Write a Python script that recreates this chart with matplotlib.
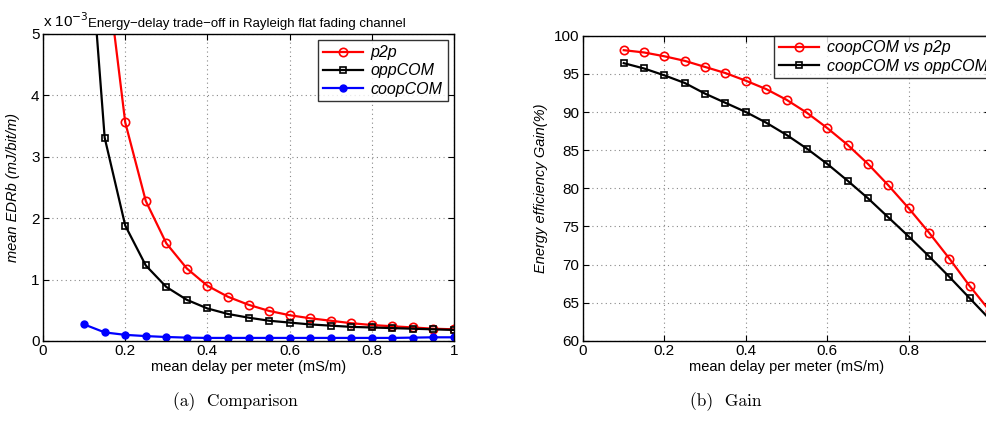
import matplotlib
matplotlib.use("Agg")
import matplotlib.pyplot as plt
import numpy as np

plt.rcParams['font.family'] = ['Liberation Sans', 'DejaVu Sans']
plt.rcParams['font.size'] = 10

# delay per meter (mS/m)
delay = [0.10, 0.15, 0.20, 0.25, 0.30, 0.35, 0.40, 0.45, 0.50, 0.55,
         0.60, 0.65, 0.70, 0.75, 0.80, 0.85, 0.90, 0.95, 1.00]

# mean EDRb (x 1e-3 mJ/bit/m)
p2p = [14.2, 6.3, 3.56, 2.28, 1.59, 1.18, 0.90, 0.72, 0.59, 0.49,
       0.42, 0.37, 0.33, 0.29, 0.26, 0.24, 0.22, 0.20, 0.19]
oppcom = [7.7, 3.31, 1.88, 1.23, 0.88, 0.67, 0.53, 0.44, 0.38, 0.33,
          0.30, 0.27, 0.25, 0.23, 0.22, 0.21, 0.20, 0.19, 0.18]
coopcom = [0.27, 0.14, 0.10, 0.08, 0.065, 0.055, 0.05, 0.05, 0.05, 0.05,
           0.05, 0.05, 0.05, 0.05, 0.05, 0.05, 0.055, 0.06, 0.06]

# energy efficiency gain (%)
gain_p2p = [98.1, 97.8, 97.3, 96.7, 95.9, 95.1, 94.1, 93.0, 91.6, 89.9,
            87.9, 85.7, 83.2, 80.4, 77.4, 74.2, 70.8, 67.2, 63.9]
gain_opp = [96.4, 95.7, 94.8, 93.8, 92.4, 91.2, 90.0, 88.6, 87.0, 85.2,
            83.2, 81.0, 78.7, 76.2, 73.7, 71.1, 68.4, 65.6, 62.8]

fig = plt.figure(figsize=(9.87, 4.34), dpi=100)
ax1 = fig.add_axes([0.0436, 0.2143, 0.4164, 0.7074])
ax2 = fig.add_axes([0.5907, 0.2143, 0.4124, 0.7035])

def style(ax, xlabels):
    ax.grid(True, linestyle=(0, (1, 3)), color='#888888', linewidth=0.8)
    ax.tick_params(direction='in', top=True, right=True, length=4,
                   labelsize=11, pad=2.5)
    for s in ax.spines.values():
        s.set_linewidth(1.0)
    ax.set_xlim(0, 1)
    ax.set_xticks([0, 0.2, 0.4, 0.6, 0.8, 1])
    ax.set_xticklabels(xlabels)
    ax.set_xlabel('mean delay per meter (mS/m)', fontsize=10.5, labelpad=1)

# (a) comparison
ax1.plot(delay, p2p, color='red', lw=1.6, marker='o', ms=6,
         mfc='none', mew=1.2, label='p2p')
ax1.plot(delay, oppcom, color='black', lw=1.6, marker='s', ms=5,
         mfc='none', mew=1.2, label='oppCOM')
ax1.plot(delay, coopcom, color='blue', lw=1.6, marker='o', ms=5,
         label='coopCOM')
style(ax1, ['0', '0.2', '0.4', '0.6', '0.8', '1'])
ax1.set_ylim(0, 5)
ax1.set_yticks([0, 1, 2, 3, 4, 5])
ax1.set_ylabel('mean EDRb (mJ/bit/m)', fontstyle='italic', fontsize=10.5,
               labelpad=8)
ax1.text(0.0, 1.012, r'x 10$^{-3}$', transform=ax1.transAxes,
         fontsize=11, ha='left', va='bottom')
ax1.text(0.11, 1.012, 'Energy\u2212delay trade\u2212off in Rayleigh flat fading channel',
         transform=ax1.transAxes, fontsize=9.5, ha='left', va='bottom')
leg1 = ax1.legend(loc='upper right', fancybox=False, edgecolor='black',
                  prop={'style': 'italic', 'size': 11.5}, handlelength=2.5,
                  borderaxespad=0.4, labelspacing=0.2, borderpad=0.3,
                  handletextpad=0.5)
leg1.get_frame().set_linewidth(1.0)

# (b) gain; the right end of the axes runs past the picture edge
ax2.plot(delay, gain_p2p, color='red', lw=1.6, marker='o', ms=6,
         mfc='none', mew=1.2, label='coopCOM vs p2p')
ax2.plot(delay, gain_opp, color='black', lw=1.6, marker='s', ms=5,
         mfc='none', mew=1.2, label='coopCOM vs oppCOM')
style(ax2, ['0', '0.2', '0.4', '0.6', '0.8', ''])
ax2.set_ylim(60, 100)
ax2.set_yticks(np.arange(60, 101, 5))
ax2.set_ylabel('Energy efficiency Gain(%)', fontstyle='italic',
               fontsize=10.5, labelpad=4)
leg2 = ax2.legend(loc='upper left', bbox_to_anchor=(0.469, 1.0),
                  fancybox=False, edgecolor='black',
                  prop={'style': 'italic', 'size': 11.5}, handlelength=2.5,
                  borderaxespad=0.0, labelspacing=0.2, borderpad=0.3,
                  handletextpad=0.5)
leg2.get_frame().set_linewidth(1.0)

fig.text(0.238, 0.075, '(a)  Comparison', fontfamily='cmr10', fontsize=12.5,
         ha='center', va='center')
fig.text(0.735, 0.075, '(b)  Gain', fontfamily='cmr10', fontsize=12.5,
         ha='center', va='center')

fig.savefig('out.png', dpi=100)
